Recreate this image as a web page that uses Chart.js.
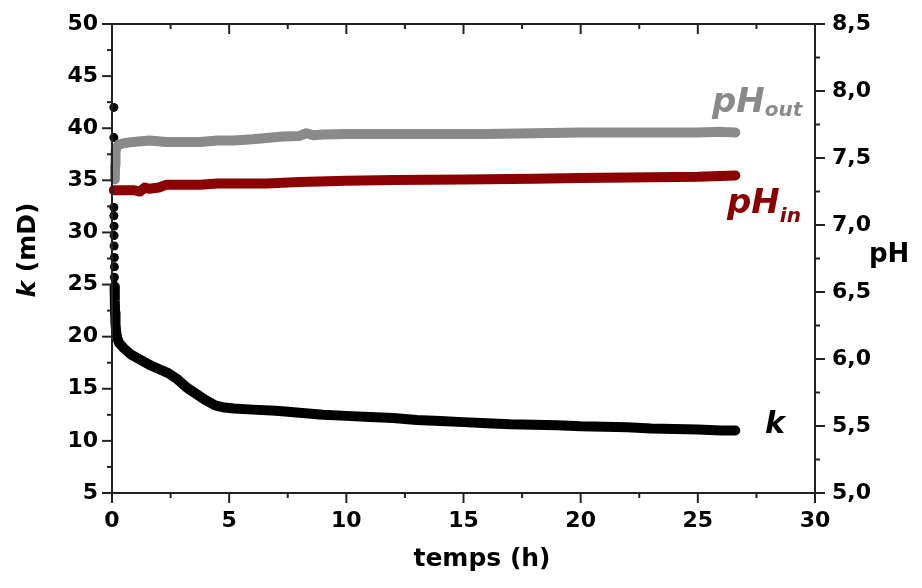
<!DOCTYPE html>
<html>
<head>
<meta charset="utf-8">
<script src="https://cdn.jsdelivr.net/npm/chart.js@4"></script>
<style>
  html, body { margin: 0; padding: 0; background: #ffffff; }
  canvas { display: block; }
</style>
</head>
<body>
<canvas id="c" width="922" height="588"></canvas>
<script>
// ---------- data ----------
const timeK = [0.08,0.08,0.08,0.08,0.09,0.09,0.09,0.10,0.10,0.10,
               0.11,0.12,0.13,0.15,0.18,0.22,0.3,0.5,0.8,1.2,
               1.6,2.0,2.4,2.8,3.2,3.6,4.0,4.4,4.8,5.2,
               6,7,8,9,10,11,12,13,14,15,
               16,17,18,19,20,21,22,23,24,25,
               26,26.6];
const kValues = [42.0,39.1,32.4,31.6,30.6,29.7,28.7,27.6,26.7,25.7,
                 24.8,23.5,22.3,21.2,20.4,19.9,19.4,18.9,18.3,17.8,
                 17.3,16.9,16.5,15.9,15.1,14.5,13.9,13.4,13.2,13.1,
                 13.0,12.9,12.7,12.5,12.4,12.3,12.2,12.0,11.9,11.8,
                 11.7,11.6,11.55,11.5,11.4,11.35,11.3,11.2,11.15,11.1,
                 11.0,11.0];
const earlyKPoints = 10; // isolated dots recorded at the very start

const timeOut = [0.12,0.13,0.15,0.2,0.3,0.5,0.9,1.6,2.3,3.0,
                 3.75,4.5,5.2,6.0,6.6,7.3,8.0,8.3,8.6,9,
                 10,12,14,16,18,20,22,24,25,26,26.6];
const phOut = [7.34,7.45,7.55,7.58,7.60,7.61,7.62,7.63,7.62,7.62,
               7.62,7.63,7.63,7.64,7.65,7.66,7.665,7.685,7.67,7.675,
               7.68,7.68,7.68,7.68,7.685,7.69,7.69,7.69,7.69,7.695,7.69];

const timeIn = [0.08,0.5,0.9,1.2,1.4,1.6,2.0,2.3,3.0,3.75,
                4.5,5.2,6.6,8.0,10,12,15,18,20,22,25,26.6];
const phIn = [7.26,7.26,7.26,7.25,7.28,7.27,7.28,7.30,7.30,7.30,
              7.31,7.31,7.31,7.32,7.33,7.335,7.34,7.345,7.35,7.355,7.36,7.37];

const xTicks = [0,5,10,15,20,25,30];
const kTicks = [5,10,15,20,25,30,35,40,45,50];
const phTicks = [5.0,5.5,6.0,6.5,7.0,7.5,8.0,8.5];
const phTickLabels = ['5,0','5,5','6,0','6,5','7,0','7,5','8,0','8,5'];

const xTitle = 'temps (h)';
const kTitleItalic = 'k';
const kTitleRest = ' (mD)';
const phTitle = 'pH';

// ---------- styles ----------
const BLACK = '#000000';
const GRAY = '#8a8a8a';
const RED = '#8b0000';
const AXIS = '#222222';
const FONT = 'DejaVu Sans';

const pts = (xs, ys) => xs.map((x, i) => ({x: x, y: ys[i]}));

const framePlugin = {
  id: 'frame',
  afterDraw(chart) {
    const {ctx, chartArea: a, scales} = chart;
    ctx.save();
    ctx.strokeStyle = AXIS;
    ctx.lineWidth = 2;
    ctx.lineCap = 'square';
    const line = (x1, y1, x2, y2) => { ctx.beginPath(); ctx.moveTo(x1, y1); ctx.lineTo(x2, y2); ctx.stroke(); };
    // box
    line(a.left, a.top, a.right, a.top);
    line(a.left, a.bottom, a.right, a.bottom);
    line(a.left, a.top, a.left, a.bottom);
    line(a.right, a.top, a.right, a.bottom);
    ctx.lineCap = 'butt';
    // ticks (major and minor)
    const tickSet = (vals, scale, draw) => {
      for (let i = 0; i < vals.length; i++) {
        const p = scale.getPixelForValue(vals[i]);
        draw(p, 10);
        if (i < vals.length - 1) {
          const pm = scale.getPixelForValue((vals[i] + vals[i + 1]) / 2);
          draw(pm, 5);
        }
      }
    };
    tickSet(xTicks, scales.x, (p, L) => { line(p, a.bottom, p, a.bottom + L); line(p, a.top, p, a.top + L); });
    tickSet(kTicks, scales.y, (p, L) => line(a.left - L, p, a.left, p));
    tickSet(phTicks, scales.y2, (p, L) => line(a.right, p, a.right + L, p));

    // axis titles
    ctx.fillStyle = BLACK;
    ctx.textBaseline = 'alphabetic';
    ctx.textAlign = 'center';
    ctx.font = 'bold 25px "' + FONT + '"';
    ctx.fillText(xTitle, 482, 566);

    ctx.textAlign = 'left';
    ctx.font = 'bold 26px "' + FONT + '"';
    ctx.fillText(phTitle, 869, 262);

    // left title rotated
    ctx.save();
    ctx.translate(35, 250);
    ctx.rotate(-Math.PI / 2);
    ctx.font = 'italic bold 25px "' + FONT + '"';
    const w1 = ctx.measureText(kTitleItalic).width;
    ctx.font = 'bold 25px "' + FONT + '"';
    const w2 = ctx.measureText(kTitleRest).width;
    const start = -(w1 + w2) / 2;
    ctx.font = 'italic bold 25px "' + FONT + '"';
    ctx.fillText(kTitleItalic, start, 0);
    ctx.font = 'bold 25px "' + FONT + '"';
    ctx.fillText(kTitleRest, start + w1, 0);
    ctx.restore();

    // series labels
    const label = (main, sub, x, y, color, size, subSize, subDy) => {
      ctx.fillStyle = color;
      ctx.font = 'italic bold ' + size + 'px "' + FONT + '"';
      ctx.fillText(main, x, y);
      const w = ctx.measureText(main).width;
      if (sub) {
        ctx.font = 'italic bold ' + subSize + 'px "' + FONT + '"';
        ctx.fillText(sub, x + w, y + subDy);
      }
    };
    label('pH', 'out', 712, 112, GRAY, 34, 20, 4);
    label('pH', 'in', 727, 213, RED, 34, 20, 9);
    label('k', null, 765, 433, BLACK, 30, 0, 0);
    ctx.restore();
  }
};

const tickFont = {family: FONT, weight: 'bold', size: 22};
const noPad = s => { s.paddingTop = 0; s.paddingBottom = 0; s.paddingLeft = 0; s.paddingRight = 0; };

new Chart(document.getElementById('c'), {
  type: 'scatter',
  data: {
    datasets: [
      {
        label: 'pHout',
        data: pts(timeOut, phOut),
        yAxisID: 'y2',
        showLine: true,
        borderColor: GRAY,
        backgroundColor: GRAY,
        borderWidth: 10,
        borderCapStyle: 'round',
        borderJoinStyle: 'round',
        pointRadius: 0,
        clip: false
      },
      {
        label: 'pHin',
        data: pts(timeIn, phIn),
        yAxisID: 'y2',
        showLine: true,
        borderColor: RED,
        backgroundColor: RED,
        borderWidth: 10,
        borderCapStyle: 'round',
        borderJoinStyle: 'round',
        pointRadius: 0,
        clip: false
      },
      {
        label: 'k',
        data: pts(timeK, kValues),
        yAxisID: 'y',
        showLine: true,
        borderColor: BLACK,
        backgroundColor: BLACK,
        borderWidth: 10,
        borderCapStyle: 'round',
        borderJoinStyle: 'round',
        pointRadius: ctx => ctx.dataIndex < earlyKPoints ? 4.5 : 0,
        pointBorderWidth: 0,
        segment: {
          borderColor: ctx => ctx.p0DataIndex < earlyKPoints - 1 ? 'rgba(0,0,0,0)' : BLACK,
          borderWidth: ctx => ctx.p0DataIndex < earlyKPoints ? 5 : 10
        },
        clip: false
      }
    ]
  },
  options: {
    responsive: false,
    devicePixelRatio: 1,
    animation: false,
    layout: { padding: { top: 24, left: 0, right: 0, bottom: 0 } },
    plugins: { legend: { display: false }, tooltip: { enabled: false } },
    scales: {
      x: {
        type: 'linear', position: 'bottom', min: 0, max: 30,
        afterBuildTicks: s => { s.ticks = xTicks.map(v => ({value: v})); },
        ticks: { font: tickFont, color: BLACK, padding: 15, maxRotation: 0,
                 callback: v => String(v) },
        grid: { display: false, drawTicks: false },
        border: { display: false },
        afterFit: s => { s.height = 95; noPad(s); }
      },
      y: {
        type: 'linear', position: 'left', min: 5, max: 50,
        afterBuildTicks: s => { s.ticks = kTicks.map(v => ({value: v})); },
        ticks: { font: tickFont, color: BLACK, padding: 14,
                 callback: v => String(v) },
        grid: { display: false, drawTicks: false },
        border: { display: false },
        afterFit: s => { s.width = 112; noPad(s); }
      },
      y2: {
        type: 'linear', position: 'right', min: 5, max: 8.5,
        afterBuildTicks: s => { s.ticks = phTicks.map(v => ({value: v})); },
        ticks: { font: tickFont, color: BLACK, padding: 17,
                 callback: v => { const i = phTicks.findIndex(t => Math.abs(t - v) < 1e-6); return i >= 0 ? phTickLabels[i] : ''; } },
        grid: { display: false, drawTicks: false },
        border: { display: false },
        afterFit: s => { s.width = 107; noPad(s); }
      }
    }
  },
  plugins: [framePlugin]
});
</script>
</body>
</html>
